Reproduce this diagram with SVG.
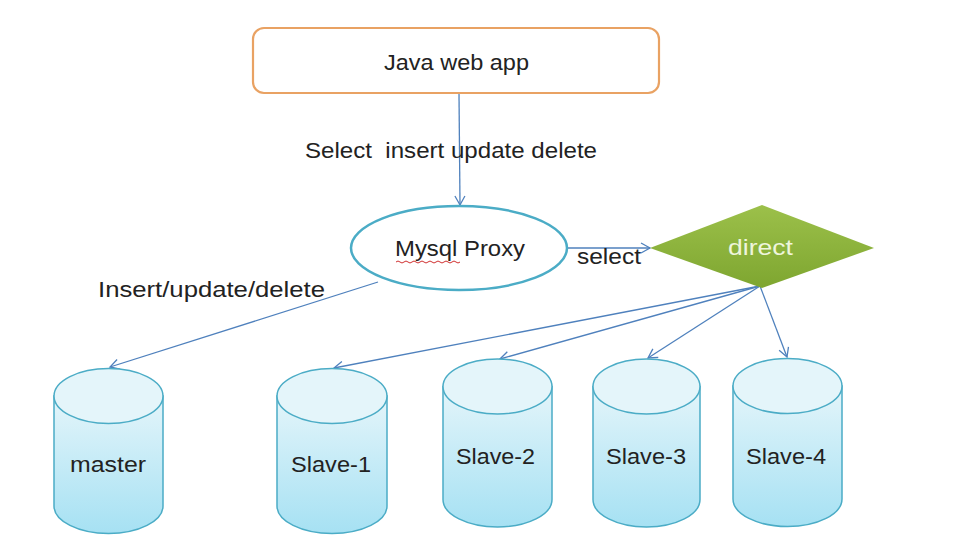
<svg xmlns="http://www.w3.org/2000/svg" width="980" height="560" viewBox="0 0 980 560">
<defs>
<linearGradient id="cyl" x1="0" y1="0" x2="0" y2="1">
<stop offset="0" stop-color="#E4F5FA"/>
<stop offset="1" stop-color="#A6E1F3"/>
</linearGradient>
<linearGradient id="dia" x1="0" y1="0" x2="0" y2="1">
<stop offset="0" stop-color="#9CC04A"/>
<stop offset="1" stop-color="#7EA630"/>
</linearGradient>
<marker id="arr" markerWidth="12" markerHeight="12" refX="10" refY="6" orient="auto" markerUnits="userSpaceOnUse">
<path d="M1,1 L10,6 L1,11" fill="none" stroke="#4F81BD" stroke-width="1.3"/>
</marker>
</defs>
<style>
text{font-family:"Liberation Sans","Open Sans",sans-serif;fill:#222;}
.lbl{font-size:22px;}
.cylb{fill:url(#cyl);stroke:#4BACC6;stroke-width:1.5;}
.cylt{fill:#E4F5FA;stroke:#4BACC6;stroke-width:1.5;}
.conn{fill:none;stroke:#4F81BD;stroke-width:1.3;marker-end:url(#arr);}
</style>
<rect width="980" height="560" fill="#fff"/>
<g id="connectors">
<line class="conn" x1="459" y1="94" x2="460" y2="205"/>
<line class="conn" x1="567" y1="248" x2="650" y2="248"/>
<line class="conn" x1="378" y1="282" x2="110" y2="367"/>
<line class="conn" x1="760" y1="286" x2="334" y2="368"/>
<line class="conn" x1="760" y1="286" x2="500" y2="359"/>
<line class="conn" x1="760" y1="286" x2="648" y2="358"/>
<line class="conn" x1="760" y1="286" x2="787" y2="357"/>
<text class="lbl" x="305" y="158" textLength="292" lengthAdjust="spacingAndGlyphs" xml:space="preserve">Select  insert update delete</text>
<text class="lbl" x="577" y="264" textLength="64" lengthAdjust="spacingAndGlyphs">select</text>
<text class="lbl" x="98" y="297" textLength="227" lengthAdjust="spacingAndGlyphs">Insert/update/delete</text>
</g>
<g id="app">
<rect x="253" y="28" width="406" height="65" rx="11" fill="#fff" stroke="#E9A263" stroke-width="2.2"/>
<text class="lbl" x="384" y="70" textLength="145" lengthAdjust="spacingAndGlyphs">Java web app</text>
</g>
<g id="proxy">
<ellipse cx="459" cy="248" rx="108" ry="42" fill="#fff" stroke="#4BACC6" stroke-width="2.5"/>
<text class="lbl" x="395" y="256" textLength="130" lengthAdjust="spacingAndGlyphs">Mysql Proxy</text>
<path d="M396,262 q2,-2 4,0 t4,0 t4,0 t4,0 t4,0 t4,0 t4,0 t4,0 t4,0 t4,0 t4,0 t4,0 t4,0 t4,0 t4,0 t4,0" fill="none" stroke="#D03030" stroke-width="1"/>
</g>
<g id="direct">
<polygon points="650,248 762,205 874,248 762,288" fill="url(#dia)"/>
<text class="lbl" x="728" y="255" textLength="65" lengthAdjust="spacingAndGlyphs" style="fill:#EEF5DC">direct</text>
</g>
<g id="master">
<path class="cylb" d="M54,396 V506 A54.5,27.5 0 0 0 163,506 V396 Z"/>
<ellipse class="cylt" cx="108.5" cy="396" rx="54.5" ry="27.5"/>
<text class="lbl" x="70" y="472" textLength="76" lengthAdjust="spacingAndGlyphs">master</text>
</g>
<g id="slave1">
<path class="cylb" d="M277,396 V506 A55,27.5 0 0 0 387,506 V396 Z"/>
<ellipse class="cylt" cx="332" cy="396" rx="55" ry="27.5"/>
<text class="lbl" x="291" y="472" textLength="80" lengthAdjust="spacingAndGlyphs">Slave-1</text>
</g>
<g id="slave2">
<path class="cylb" d="M443,386.5 V499.5 A54.5,27.5 0 0 0 552,499.5 V386.5 Z"/>
<ellipse class="cylt" cx="497.5" cy="386.5" rx="54.5" ry="27.5"/>
<text class="lbl" x="456" y="464" textLength="79" lengthAdjust="spacingAndGlyphs">Slave-2</text>
</g>
<g id="slave3">
<path class="cylb" d="M593,386.5 V499.5 A53.5,27.5 0 0 0 700,499.5 V386.5 Z"/>
<ellipse class="cylt" cx="646.5" cy="386.5" rx="53.5" ry="27.5"/>
<text class="lbl" x="606" y="464" textLength="80" lengthAdjust="spacingAndGlyphs">Slave-3</text>
</g>
<g id="slave4">
<path class="cylb" d="M733,386 V499 A54.5,27.5 0 0 0 842,499 V386 Z"/>
<ellipse class="cylt" cx="787.5" cy="386" rx="54.5" ry="27.5"/>
<text class="lbl" x="746" y="464" textLength="80" lengthAdjust="spacingAndGlyphs">Slave-4</text>
</g>
</svg>
